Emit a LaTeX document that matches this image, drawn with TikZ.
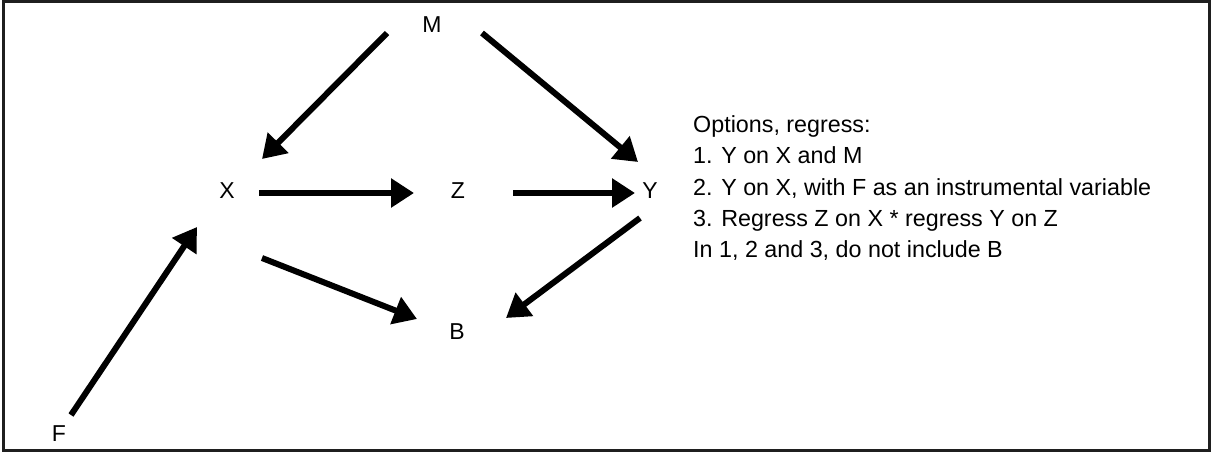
\documentclass[tikz,border=0pt]{standalone}
\usepackage{fontspec}
\setmainfont{Liberation Sans}
\usetikzlibrary{arrows.meta,calc}
\begin{document}
\begin{tikzpicture}[x=1pt,y=-1pt,
  var/.style={anchor=base,inner sep=0pt,font=\fontsize{23}{26}\selectfont},
  note/.style={anchor=base west,inner sep=0pt,font=\fontsize{23.3}{28}\selectfont},
  link/.style={line width=6pt,-{Triangle[length=23pt,width=28pt]}},
  frame/.style={line width=3pt,draw=black!88}]
  \useasboundingbox (0,0) rectangle (1212,453);
  \draw[frame] (3,1.5) rectangle (1209.5,450);
  % variables
  \node[var] (M) at (432,32) {M};
  \node[var] (X) at (227,198) {X};
  \node[var] (Z) at (458,198) {Z};
  \node[var] (Y) at (650,198) {Y};
  \node[var] (B) at (457,339) {B};
  \node[var] (F) at (59,441) {F};
  % causal links
  \draw[link] ($(M.base)+(-45,1)$) -- ($(X.base)+(35,-39)$);
  \draw[link] ($(M.base)+(50,1)$) -- ($(Y.base)+(-12,-36)$);
  \draw[link] ($(X.base)+(32,-5)$) -- ($(Z.base)+(-44,-5)$);
  \draw[link] ($(Z.base)+(55,-5)$) -- ($(Y.base)+(-15,-5)$);
  \draw[link] ($(Y.base)+(-10,20)$) -- ($(B.base)+(49,-21)$);
  \draw[link] ($(X.base)+(35,60)$) -- ($(B.base)+(-40,-20)$);
  \draw[link] ($(F.base)+(12,-26)$) -- ($(X.base)+(-30,29)$);
  % notes, one line per node
  \node[note] (n0) at (693,132.7) {Options, regress:};
  \node[note] (n1) at (693,163.9) {1. Y on X and M};
  \node[note] (n2) at (693,195.1) {2. Y on X, with F as an instrumental variable};
  \node[note] (n3) at (693,226.3) {3. Regress Z on X * regress Y on Z};
  \node[note] (n4) at (693,257.5) {In 1, 2 and 3, do not include B};
\end{tikzpicture}
\end{document}
